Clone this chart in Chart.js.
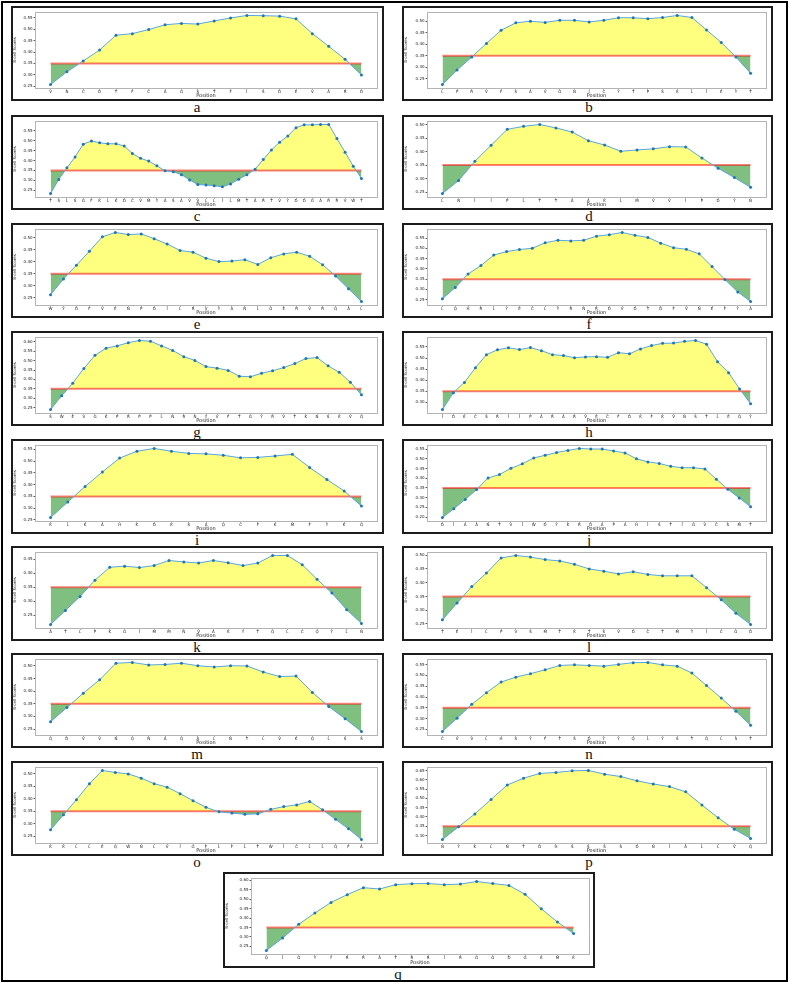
<!DOCTYPE html>
<html>
<head>
<meta charset="utf-8">
<script src="https://cdn.jsdelivr.net/npm/chart.js@4.4.1/dist/chart.umd.min.js"></script>
<style>
  body { margin: 0; background: #fff; width: 789px; height: 983px; position: relative; overflow: hidden; }
  #frame { position: absolute; left: 1px; top: 1px; width: 787px; height: 981px; border: 2px solid #000; box-sizing: border-box; }
  .panel { position: absolute; border: 2px solid #1c1c1c; box-sizing: border-box; background: #fff; }
  .panel canvas { display: block; }
  .lbl { position: absolute; width: 40px; text-align: center; font-family: "Liberation Serif", "DejaVu Serif", serif; font-size: 15px; line-height: 14px; color: #111; }
</style>
</head>
<body>
<div id="frame"></div>
<script>
const THRESHOLD = 0.35;

const seqA = ["V","N","C","D","T","F","C","A","G","S","T","F","I","S","D","E","V","A","R","D"];
const valA = [0.257,0.313,0.361,0.409,0.474,0.481,0.499,0.520,0.526,0.523,0.537,0.550,0.561,0.560,0.558,0.546,0.481,0.425,0.368,0.299];

const seqB = ["L","P","R","V","F","S","A","V","G","N","I","C","Y","T","P","S","K","L","I","E","Y","T"];
const valB = [0.225,0.288,0.344,0.403,0.460,0.492,0.499,0.494,0.503,0.503,0.496,0.503,0.514,0.514,0.510,0.515,0.524,0.515,0.461,0.407,0.344,0.274];

const seqC = ["T","S","L","S","G","F","K","L","K","D","C","V","M","Y","A","S","A","V","V","L","L","I","L","M","T","A","R","T","V","Y","D","D","G","A","R","R","V","W","T"];
const valC = [0.234,0.305,0.363,0.418,0.482,0.498,0.489,0.484,0.484,0.473,0.435,0.411,0.397,0.373,0.348,0.344,0.329,0.302,0.279,0.277,0.273,0.268,0.282,0.306,0.329,0.356,0.405,0.453,0.492,0.523,0.565,0.579,0.579,0.581,0.581,0.510,0.442,0.371,0.310];

const seqD = ["L","N","I","I","P","L","T","T","A","A","K","L","M","V","V","I","P","D","Y","N"];
const valD = [0.245,0.293,0.364,0.423,0.482,0.493,0.500,0.487,0.472,0.440,0.424,0.401,0.406,0.410,0.418,0.417,0.376,0.338,0.304,0.268];

const seqE = ["W","Y","D","F","V","E","N","P","D","I","L","R","V","Y","A","N","L","G","E","R","V","R","Q","A","L"];
const valE = [0.263,0.329,0.386,0.444,0.504,0.522,0.513,0.516,0.496,0.474,0.447,0.440,0.415,0.401,0.403,0.409,0.389,0.417,0.433,0.440,0.423,0.388,0.341,0.288,0.235];

const seqF = ["L","Q","H","R","L","Y","E","C","L","Y","R","N","R","D","V","D","T","D","F","V","N","E","F","Y","A"];
const valF = [0.255,0.309,0.375,0.416,0.467,0.484,0.494,0.500,0.527,0.539,0.536,0.539,0.559,0.566,0.577,0.563,0.553,0.525,0.503,0.495,0.473,0.411,0.348,0.288,0.241];

const seqG = ["S","W","E","V","G","K","P","R","P","P","L","N","R","N","Y","V","F","T","G","Y","R","V","T","K","N","S","K","V","Q"];
const valG = [0.240,0.313,0.380,0.458,0.528,0.566,0.578,0.595,0.607,0.603,0.578,0.554,0.521,0.501,0.468,0.460,0.448,0.417,0.414,0.433,0.446,0.463,0.484,0.511,0.516,0.472,0.438,0.385,0.318];

const seqH = ["I","D","K","C","S","R","I","I","P","A","R","A","R","V","E","C","F","D","K","F","K","V","N","S","T","L","E","Q","Y"];
const valH = [0.268,0.344,0.390,0.456,0.515,0.537,0.546,0.538,0.547,0.533,0.515,0.511,0.501,0.505,0.506,0.503,0.524,0.519,0.541,0.556,0.566,0.567,0.575,0.579,0.562,0.483,0.434,0.361,0.294];

const seqI = ["K","L","K","A","H","K","D","K","S","A","Q","C","F","K","M","F","Y","K","G"];
const valI = [0.260,0.326,0.392,0.454,0.513,0.542,0.554,0.542,0.533,0.531,0.525,0.514,0.516,0.522,0.529,0.473,0.422,0.373,0.309];

const seqJ = ["D","I","A","A","N","T","V","I","W","D","Y","K","R","D","A","P","A","H","I","S","T","I","G","V","C","S","M","T"];
const valJ = [0.198,0.243,0.291,0.342,0.401,0.419,0.451,0.474,0.504,0.518,0.532,0.543,0.553,0.550,0.550,0.540,0.530,0.500,0.484,0.476,0.461,0.454,0.454,0.448,0.395,0.344,0.299,0.253];

const seqK = ["A","T","L","P","K","G","I","M","M","N","V","A","K","Y","T","Q","L","C","Q","Y","L","N"];
const valK = [0.217,0.267,0.317,0.375,0.421,0.425,0.420,0.427,0.445,0.440,0.436,0.445,0.437,0.427,0.436,0.463,0.463,0.430,0.378,0.329,0.270,0.221];

const seqL = ["T","E","I","L","P","V","S","M","T","K","T","S","V","D","C","T","M","Y","I","C","G","D"];
const valL = [0.265,0.326,0.386,0.435,0.490,0.499,0.493,0.484,0.479,0.467,0.450,0.442,0.432,0.440,0.430,0.425,0.425,0.425,0.382,0.338,0.289,0.248];

const seqM = ["Q","D","V","V","N","Q","N","A","Q","A","L","N","T","L","V","K","Q","L","S","S"];
const valM = [0.279,0.335,0.392,0.445,0.511,0.514,0.504,0.506,0.511,0.501,0.496,0.501,0.500,0.476,0.458,0.460,0.395,0.339,0.291,0.240];

const seqN = ["C","V","V","L","H","S","Y","F","T","S","D","Y","Y","Q","L","Y","S","T","Q","L","S","T"];
const valN = [0.240,0.302,0.366,0.420,0.469,0.492,0.508,0.526,0.546,0.549,0.546,0.543,0.551,0.559,0.560,0.549,0.543,0.511,0.453,0.395,0.334,0.269];

const seqO = ["K","K","L","L","E","Q","W","N","L","V","I","G","F","L","F","L","T","W","I","C","L","L","Q","F","A"];
const valO = [0.276,0.336,0.397,0.461,0.514,0.506,0.500,0.483,0.461,0.447,0.421,0.393,0.366,0.348,0.343,0.338,0.340,0.358,0.369,0.376,0.390,0.356,0.318,0.280,0.237];

const seqP = ["N","Y","K","L","N","T","D","H","S","S","S","S","D","N","I","A","L","L","V","Q"];
const valP = [0.278,0.347,0.416,0.494,0.572,0.608,0.634,0.639,0.648,0.650,0.630,0.617,0.594,0.577,0.563,0.535,0.464,0.395,0.333,0.284];

const seqQ = ["Q","I","G","Y","Y","R","R","A","T","R","R","I","R","G","G","D","G","K","M","K"];
const valQ = [0.228,0.294,0.367,0.427,0.483,0.524,0.561,0.554,0.577,0.582,0.583,0.577,0.580,0.594,0.583,0.573,0.526,0.449,0.379,0.318];

// panel boxes (layout only)
const rowTops = [6, 115, 223, 331, 439, 546, 653, 761];
const panels = [
  ["a", seqA, valA], ["b", seqB, valB], ["c", seqC, valC], ["d", seqD, valD],
  ["e", seqE, valE], ["f", seqF, valF], ["g", seqG, valG], ["h", seqH, valH],
  ["i", seqI, valI], ["j", seqJ, valJ], ["k", seqK, valK], ["l", seqL, valL],
  ["m", seqM, valM], ["n", seqN, valN], ["o", seqO, valO], ["p", seqP, valP]
].map((p, i) => {
  const right = i % 2 === 1;
  return { name: p[0], seq: p[1], vals: p[2],
    left: right ? 402 : 11, top: rowTops[Math.floor(i / 2)], w: right ? 371 : 373, h: 95,
    yw: right ? 23 : 22, pt: 2, pr: 5, xh: 11, lblX: right ? 589 : 197 };
});
panels.push({ name: "q", seq: seqQ, vals: valQ, left: 223, top: 872, w: 372, h: 96,
  yw: 26, pt: 2, pr: 4, xh: 12, lblX: 398 });

const spines = {
  id: "spines",
  afterDraw(chart) {
    const { ctx, chartArea: a } = chart;
    ctx.save();
    ctx.strokeStyle = "#b4b4b4";
    ctx.lineWidth = 1;
    ctx.strokeRect(Math.round(a.left) + 0.5, Math.round(a.top) + 0.5, Math.round(a.right - a.left), Math.round(a.bottom - a.top));
    ctx.restore();
  }
};

const FONT = "'DejaVu Sans', sans-serif";

panels.forEach(p => {
  const box = document.createElement("div");
  box.className = "panel";
  Object.assign(box.style, { left: p.left + "px", top: p.top + "px", width: p.w + "px", height: p.h + "px" });
  const cv = document.createElement("canvas");
  cv.width = p.w - 4;
  cv.height = p.h - 4;
  box.appendChild(cv);
  document.body.appendChild(box);

  const lbl = document.createElement("div");
  lbl.className = "lbl";
  lbl.textContent = p.name;
  lbl.style.left = (p.lblX - 20) + "px";
  lbl.style.top = (p.top + p.h - 1) + "px";
  document.body.appendChild(lbl);

  const n = p.seq.length;
  const lo = Math.min(THRESHOLD, ...p.vals), hi = Math.max(THRESHOLD, ...p.vals);
  const pad = (hi - lo) * 0.05;

  new Chart(cv.getContext("2d"), {
    type: "line",
    data: {
      datasets: [
        {
          data: p.vals.map((v, i) => ({ x: i, y: v })),
          borderColor: "#5aa5dc",
          borderWidth: 1,
          pointRadius: 1.5,
          pointBackgroundColor: "#1f77b4",
          pointBorderWidth: 0,
          tension: 0,
          fill: { target: { value: THRESHOLD }, above: "rgba(255,255,0,0.5)", below: "rgba(0,128,0,0.5)" },
          order: 0
        },
        {
          data: [{ x: 0, y: THRESHOLD }, { x: n - 1, y: THRESHOLD }],
          borderColor: "rgba(255,0,0,0.5)",
          borderWidth: 2,
          pointRadius: 0,
          fill: false,
          order: 1
        }
      ]
    },
    options: {
      responsive: false,
      animation: false,
      layout: { padding: { top: p.pt, right: p.pr, left: 0, bottom: 0 } },
      plugins: { legend: { display: false }, tooltip: { enabled: false }, filler: { drawTime: "beforeDatasetsDraw" } },
      scales: {
        x: {
          type: "linear",
          min: -0.05 * (n - 1),
          max: 1.05 * (n - 1),
          afterBuildTicks: s => { s.ticks = p.seq.map((_, i) => ({ value: i })); },
          afterFit: s => { s.height = p.xh; },
          grid: { drawOnChartArea: false, tickLength: 1.5, color: "#555" },
          border: { display: false },
          ticks: { autoSkip: false, maxRotation: 0, padding: 0, color: "#222", font: { family: FONT, size: 4 },
            callback: v => p.seq[v] },
          title: { display: true, text: "Position", padding: 0, color: "#222", font: { family: FONT, size: 5 } }
        },
        y: {
          min: lo - pad,
          max: hi + pad,
          afterFit: s => { s.width = p.yw; },
          grid: { drawOnChartArea: false, tickLength: 1.5, color: "#555" },
          border: { display: false },
          ticks: { stepSize: 0.05, includeBounds: false, padding: 1, color: "#222", font: { family: FONT, size: 4 },
            callback: v => v.toFixed(2) },
          title: { display: true, text: "B-cell Scores", padding: 0, color: "#222", font: { family: FONT, size: 4 } }
        }
      }
    },
    plugins: [spines]
  });
});
</script>
</body>
</html>
